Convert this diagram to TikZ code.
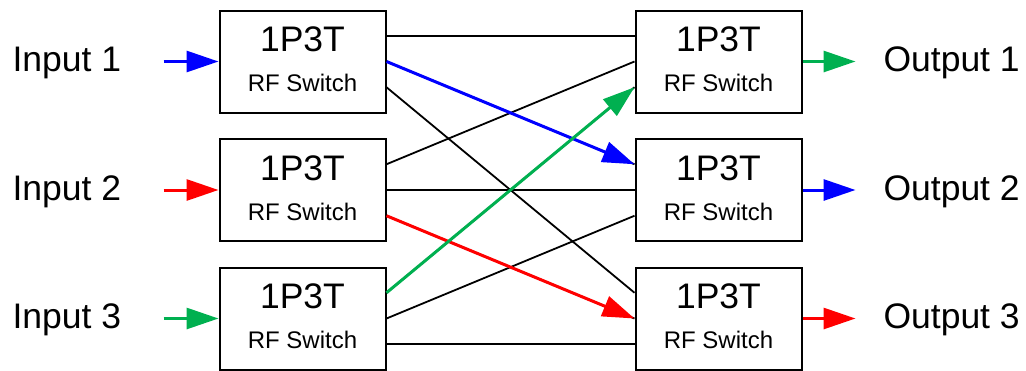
\documentclass[tikz,border=0pt]{standalone}
\usepackage{fontspec}
\setmainfont{Liberation Sans}
\usetikzlibrary{arrows.meta}
\definecolor{swgreen}{RGB}{0,176,80}
\begin{document}
\begin{tikzpicture}[x=1pt,y=-1pt,
    switch/.style={draw, line width=2pt, minimum width=166pt, minimum height=102pt, inner sep=0pt},
    big/.style={font=\fontsize{35.5}{35.5}\selectfont},
    small/.style={font=\fontsize{24}{24}\selectfont},
    wire/.style={line width=1.8pt},
    sig/.style={line width=3pt, -{Triangle[length=32pt,width=21pt]}}
  ]
  \useasboundingbox (0,0) rectangle (1026,370);

  % switches on both sides, with their pins
  \foreach \i/\y in {1/61.5, 2/190, 3/318.5} {
      \node[switch] (L\i) at (302.5,\y) {};
      \node[switch] (R\i) at (718.5,\y) {};
      \foreach \s in {L,R} {
          \node[big, anchor=base] (\s\i a) at ([yshift=-42pt]\s\i.north) {1P3T};
          \node[small, anchor=base] (\s\i b) at ([yshift=-82pt]\s\i.north) {RF Switch};
      }
      \foreach \k/\d in {1/25.75, 2/0, 3/-25.75} {
          \coordinate (L\i-\k) at ([yshift=\d pt]L\i.east);
          \coordinate (R\i-\k) at ([yshift=\d pt]R\i.west);
      }
      \coordinate (in\i) at ([xshift=-55pt]L\i.west);
      \coordinate (out\i) at ([xshift=53pt]R\i.east);
      \node[big, anchor=base west] (in\i t) at (9,\y+10) {Input \i};
      \node[big, anchor=base west] (out\i t) at (880,\y+10) {Output \i};
  }

  % pin j of left switch i goes to pin i of right switch j
  \foreach \i in {1,2,3} {
      \foreach \j in {1,2,3} {
          \draw[wire] (L\i-\j) -- (R\j-\i);
      }
  }

  % routed signals
  \draw[sig, blue] (L1-2) -- (R2-1);
  \draw[sig, red] (L2-3) -- (R3-2);
  \draw[sig, swgreen] (L3-1) -- (R1-3);

  % inputs and outputs
  \foreach \i/\a/\b in {1/blue/swgreen, 2/red/blue, 3/swgreen/red} {
      \draw[sig, \a] (in\i) -- (L\i);
      \draw[sig, \b] (R\i) -- (out\i);
  }
\end{tikzpicture}
\end{document}
